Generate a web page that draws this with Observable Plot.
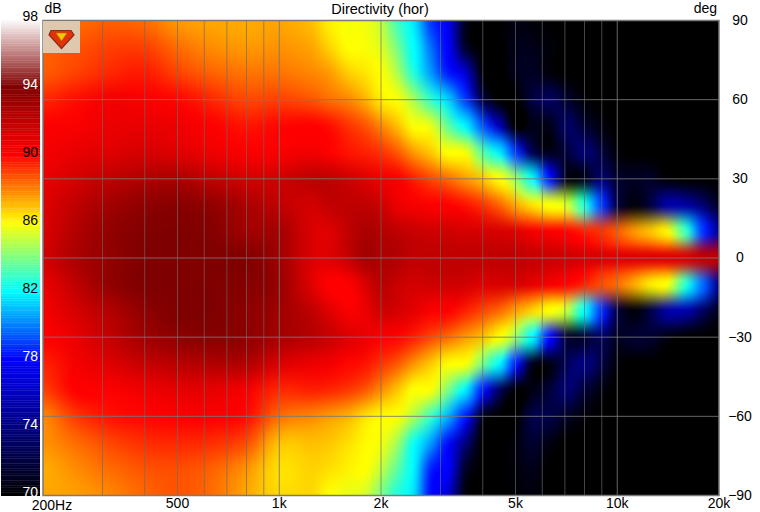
<!DOCTYPE html>
<html>
<head>
<meta charset="utf-8">
<script src="https://cdn.jsdelivr.net/npm/d3@7"></script>
<script src="https://cdn.jsdelivr.net/npm/@observablehq/plot@0.6"></script>
<style>
html,body{margin:0;padding:0;background:#fff;overflow:hidden}
#stage{position:relative;width:760px;height:512px}
#stage>svg,#stage>div{position:absolute;left:0;top:0}
</style>
</head>
<body>
<div id="stage"></div>
<script>
const freqs = [200,250,315,400,500,630,800,1000,1250,1400,1600,1800,2000,2240,2500,2800,3150,3550,4000,4500,5000,5600,6300,7100,8000,9000,10000,11200,12500,14000,16000,18000,20000];
const angles = [90,80,70,60,50,40,30,20,10,0,-10,-20,-30,-40,-50,-60,-70,-80,-90];
const row90  = [88.1,88.3,88.5,88.3,87.6,87.4,87.3,87.4,87.0,86.2,85.9,85.8,85.0,83.0,81.6,78.9,77.4,71.0,70,70,70.5,70.3,70,70,70,70,70,70,70,70,70,70,70];
const row80  = [88.5,88.7,89.0,89.0,88.3,87.8,87.6,87.7,87.4,86.7,86.0,85.9,85.4,83.8,82.0,79.8,78.0,71.5,70,70,70.8,70.8,70.3,70,70,70,70,70,70,70,70,70,70];
const row70  = [88.6,89.0,89.4,89.6,89.0,88.5,88.2,88.2,87.9,87.6,86.8,86.4,86.0,84.7,82.6,80.5,78.5,76.5,70.3,70,70.8,71.2,70.4,70,70,70,70,70,70,70,70,70,70];
const row60  = [89.4,89.8,90.3,90.2,89.9,89.4,88.9,89.0,88.7,88.3,87.9,87.2,86.3,85.9,84.6,82.9,81.3,79.0,72.5,70,70,71.8,72.8,71.5,70.3,70,70,70,70,70,70,70,70];
const row50  = [90.1,90.2,90.6,90.7,90.5,90.1,89.7,89.9,90.0,89.8,89.2,88.7,87.9,87.0,85.9,85.6,83.6,81.8,79.4,75.5,70,70.8,70.8,73.1,71.6,70.5,70,70,70,70,70,70,70];
const row40  = [90.3,90.7,91.0,91.3,91.0,90.5,90.2,90.2,90.4,90.1,89.7,89.5,89.2,88.6,87.6,86.9,86.0,85.8,83.4,81.6,79.0,72.8,71.0,71.9,73.5,72.0,70.3,70,70,70,70,70,70];
const row30  = [90.7,91.3,92.0,92.5,92.6,92.0,91.4,91.5,92.0,92.0,91.5,91.0,90.5,90.2,89.5,88.9,88.3,87.6,86.9,86.0,84.4,82.2,78.5,70.8,71.0,73.5,71.5,71.0,71.2,70.3,70,70,70];
const row20  = [91.0,92.0,92.9,93.5,93.7,93.4,92.6,92.0,91.4,91.9,92.0,92.0,91.6,90.6,90.3,90.1,90.0,89.7,89.2,88.4,87.4,86.5,86.0,85.3,82.6,79.0,72.2,70.4,71.9,75.0,75.0,73.5,71.2];
const row10  = [91.2,92.4,93.4,93.9,94.0,93.8,93.0,92.8,91.2,91.0,92.0,92.6,92.4,92.0,91.7,91.5,91.5,91.3,91.3,91.2,91.0,90.4,90.2,89.9,89.5,89.2,88.6,87.7,87.0,86.2,82.9,78.8,74.7];
const row0   = [91.4,92.6,93.4,94.0,94.0,94.0,93.9,93.0,91.2,91.0,91.8,92.8,92.6,92.4,92.0,92.0,92.0,92.0,92.0,92.0,92.0,91.8,91.6,91.5,91.3,91.2,91.0,91.0,91.0,91.0,91.2,92.0,92.0];
const rowM10 = [90.7,92.0,93.4,94.0,94.0,94.0,93.8,93.2,91.0,90.0,90.0,91.2,92.2,91.7,91.4,91.5,91.5,91.4,91.0,91.2,91.2,90.8,90.3,89.9,89.4,88.8,88.3,87.4,86.4,85.9,82.6,79.6,74.4];
const rowM20 = [90.3,91.3,92.4,93.5,94.0,94.0,93.6,93.0,92.0,91.0,90.2,90.6,91.5,91.3,90.8,90.2,90.0,89.5,88.9,88.3,87.5,86.7,86.0,85.0,82.0,78.8,72.2,70.3,72.0,75.0,75.3,73.0,71.0];
const rowM30 = [90.0,90.7,91.9,93.0,93.5,93.7,93.5,92.8,92.2,91.7,91.0,90.6,90.2,89.9,89.5,88.9,88.3,87.6,87.0,86.0,84.4,82.0,78.2,71.8,71.8,73.1,71.2,71.5,71.5,70.6,70,70,70];
const rowM40 = [89.5,90.3,91.0,91.8,92.2,92.5,92.4,91.2,90.6,90.4,89.9,89.7,89.2,88.6,87.7,86.9,86.1,85.9,83.9,81.8,78.6,71.2,70.8,72.8,74.0,72.2,70.3,70,70,70,70,70,70];
const rowM50 = [89.0,90.0,90.1,90.5,90.8,90.8,90.3,89.4,89.5,89.4,89.1,88.6,87.8,86.9,86.0,85.9,84.0,81.7,78.5,73.0,70.2,70.6,71.8,73.5,71.8,70.5,70,70,70,70,70,70,70];
const rowM60 = [87.9,89.1,89.7,89.9,90.1,90.2,89.8,88.3,87.9,87.6,87.2,86.5,86.1,85.9,84.7,83.0,80.8,78.5,71.2,70,70,72.2,72.2,71.2,70.3,70,70,70,70,70,70,70,70];
const rowM70 = [87.7,88.3,88.9,89.3,89.4,89.3,88.8,87.0,87.0,86.9,86.5,86.1,85.8,84.5,82.2,80.5,78.3,74.0,70,70,70.4,71.5,70.6,70,70,70,70,70,70,70,70,70,70];
const rowM80 = [87.3,87.8,88.3,88.7,88.8,88.5,87.7,86.5,86.7,86.5,86.2,86.0,85.0,83.4,81.8,78.6,78.0,71.4,70,70,70.3,70.8,70,70,70,70,70,70,70,70,70,70,70];
const rowM90 = [87.4,87.5,87.9,88.4,88.7,88.3,87.4,86.6,86.6,86.0,85.7,85.3,83.9,82.5,81.5,78.2,76.5,70.5,70,70,70.2,70.4,70,70,70,70,70,70,70,70,70,70,70];
const rows = [row90,row80,row70,row60,row50,row40,row30,row20,row10,row0,rowM10,rowM20,rowM30,rowM40,rowM50,rowM60,rowM70,rowM80,rowM90];

const colorDomain = [70,78,82,84,86,90,94,98];
const colorRange = ["#000000","#0000ff","#00ffff","#80ff80","#ffff00","#ff0000","#800000","#ffffff"];
const barTicks = [98,94,90,86,82,78,74,70];
const barLight = [94,78,74,70];
const xGridMajor = [1000,10000];
const xGridMinor = [300,400,500,600,700,800,900,2000,3000,4000,5000,6000,7000,8000,9000];
const yTicks = [90,60,30,0,-30,-60,-90];
const xTicks = [500,1000,2000,5000,10000,20000];

// The source image blends colours, not levels, between its measured nodes.
const nodeColor = d3.scaleLinear().domain(colorDomain).range(colorRange).interpolate(d3.interpolateRgb).clamp(true);
const nodes = rows.map(r => r.map(v => { const c = d3.rgb(nodeColor(v)); return [c.r,c.g,c.b]; }));
const logF = freqs.map(Math.log);
const cr = (a,b,c,d,t) => 0.5*((2*b)+(c-a)*t+(2*a-5*b+4*c-d)*t*t+(3*b-a-3*c+d)*t*t*t);
const clampI = (i,n) => Math.max(0,Math.min(n-1,i));
function sample(f,a){
  const lf = Math.log(f);
  let i = d3.bisectRight(logF,lf)-1; i = clampI(i,freqs.length-1); if (i>freqs.length-2) i = freqs.length-2;
  const tx = Math.max(0,Math.min(1,(lf-logF[i])/(logF[i+1]-logF[i])));
  const ry = (90-a)/10; let j = clampI(Math.floor(ry),angles.length-1); if (j>angles.length-2) j = angles.length-2;
  const ty = Math.max(0,Math.min(1,ry-j));
  const out = [0,0,0];
  for (let ch=0;ch<3;ch++){
    const col = [];
    for (let q=-1;q<=2;q++){
      const row = nodes[clampI(j+q,angles.length)];
      col.push(cr(row[clampI(i-1,freqs.length)][ch],row[i][ch],row[i+1][ch],row[clampI(i+2,freqs.length)][ch],tx));
    }
    out[ch] = Math.max(0,Math.min(255,Math.round(cr(col[0],col[1],col[2],col[3],ty))));
  }
  return `rgb(${out[0]},${out[1]},${out[2]})`;
}

const fmtF = d => d >= 1000 ? (d/1000)+"k" : String(d);
const FONT = "'Liberation Sans', Arial, sans-serif";

const main = Plot.plot({
  width:760, height:512,
  marginLeft:42.5, marginRight:41.5, marginTop:20, marginBottom:17,
  style:{fontFamily:FONT,fontSize:"14px",background:"transparent",color:"#000"},
  x:{type:"log",domain:[200,20000],axis:null},
  y:{domain:[-90,90],axis:null},
  color:{type:"identity"},
  marks:[
    Plot.raster({fill:sample,x1:200,x2:20000,y1:-90,y2:90,pixelSize:1}),
    Plot.ruleX(xGridMinor,{x:d=>d,stroke:"#6c6c6c",strokeOpacity:0.65,strokeWidth:1}),
    Plot.ruleX(xGridMajor,{x:d=>d,stroke:"#787878",strokeOpacity:0.85,strokeWidth:1}),
    Plot.ruleY(yTicks.slice(1,-1),{y:d=>d,stroke:"#787878",strokeOpacity:0.85,strokeWidth:1}),
    Plot.frame({stroke:"#7a7a7a",strokeWidth:1.5}),
    Plot.axisX({ticks:xTicks,tickSize:0,tickPadding:3,tickFormat:fmtF,fontSize:14,anchor:"bottom",label:null,stroke:"none"}),
    Plot.text(["200Hz"],{x:200,y:-90,dx:9,dy:10,fontSize:14,fill:"#000"}),
    Plot.axisY({anchor:"right",ticks:yTicks,tickSize:0,tickPadding:21,textAnchor:"middle",fontSize:14,label:null,stroke:"none"}),
    Plot.text(["Directivity (hor)"],{frameAnchor:"top",dx:-1,dy:-17,lineAnchor:"top",fontSize:14.5,fill:"#000"}),
    Plot.text(["dB"],{frameAnchor:"top-left",dx:1.5,dy:-17,lineAnchor:"top",fontSize:14,fill:"#000"}),
    Plot.text(["deg"],{frameAnchor:"top-right",dx:-2,dy:-17,lineAnchor:"top",fontSize:14,fill:"#000"})
  ]
});

const barLevels = d3.range(70,98,0.1);
const bar = Plot.plot({
  width:42, height:512,
  marginLeft:1, marginRight:2, marginTop:20, marginBottom:16,
  style:{fontFamily:FONT,fontSize:"14px",background:"transparent"},
  x:{domain:[0,1],axis:null},
  y:{domain:[70,98],axis:null},
  color:{type:"linear",domain:colorDomain,range:colorRange,interpolate:"rgb"},
  marks:[
    Plot.rect(barLevels,{x1:0,x2:1,y1:d=>d,y2:d=>d+0.12,fill:d=>d}),
    Plot.text(barTicks,{x:1,y:d=>d,dx:-2.5,dy:-4,textAnchor:"end",text:d=>String(d),fontSize:14,
      fill:d=>barLight.includes(d)?"#ffffff":"#000000"})
  ]
});

const stage = document.getElementById("stage");
stage.appendChild(main);
stage.appendChild(bar);
const logo = document.createElement("div");
logo.innerHTML = `<svg xmlns="http://www.w3.org/2000/svg" width="37" height="32" viewBox="0 0 37 32" style="display:block">
<rect width="37" height="32" fill="#dfc9ae"/>
<polygon points="8,9.5 28,9.5 31,14 18.5,27.5 6,14" fill="#e23208" stroke="#8c2a1a" stroke-width="1.2"/>
<polygon points="13,12 24,12 18.5,20" fill="#f2c805" stroke="#b86a10" stroke-width="0.6"/>
</svg>`;
logo.style.cssText = "position:absolute;left:43px;top:21px;width:37px;height:32px";
stage.appendChild(logo);
</script>
</body>
</html>
